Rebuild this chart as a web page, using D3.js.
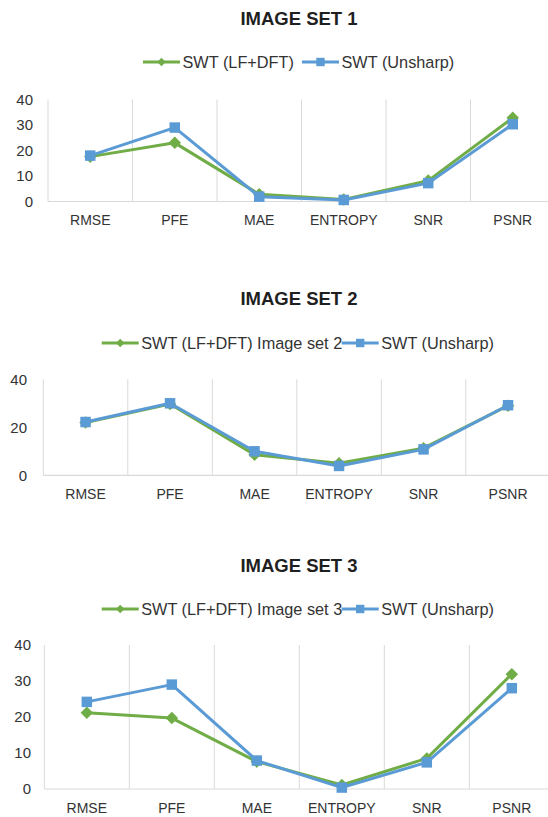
<!DOCTYPE html>
<html>
<head>
<meta charset="utf-8">
<script src="https://cdn.jsdelivr.net/npm/d3@7"></script>
<style>
  html, body { margin: 0; padding: 0; background: #fff; }
  svg { display: block; font-family: "Liberation Sans", Arial, Helvetica, sans-serif; }
</style>
</head>
<body>
<svg id="chart" width="548" height="817"></svg>
<script>
// Metrics shared by all three panels
const categories = ["RMSE", "PFE", "MAE", "ENTROPY", "SNR", "PSNR"];

// Panel titles and legend names
const titles = ["IMAGE SET 1", "IMAGE SET 2", "IMAGE SET 3"];
const lfDftNames = ["SWT (LF+DFT)", "SWT (LF+DFT) Image set 2", "SWT (LF+DFT) Image set 3"];
const unsharpName = "SWT (Unsharp)";

// Series values per image set
const lfDft1   = [17.6, 23.0, 2.8, 0.8, 8.2, 32.8];
const unsharp1 = [18.0, 29.0, 1.9, 0.6, 7.2, 30.3];
const lfDft2   = [22.0, 29.7, 8.6, 5.0, 11.3, 29.0];
const unsharp2 = [22.2, 30.0, 10.0, 3.9, 10.8, 29.2];
const lfDft3   = [21.2, 19.7, 7.6, 1.1, 8.5, 31.9];
const unsharp3 = [24.2, 29.0, 7.9, 0.4, 7.4, 28.0];

// Value axis ticks
const yTicks1 = [0, 10, 20, 30, 40];
const yTicks2 = [0, 20, 40];
const yTicks3 = [0, 10, 20, 30, 40];

const GREEN = "#70ad47";
const BLUE = "#5b9bd5";
const GRID = "#d9d9d9";
const TEXT = "#333333";

const svg = d3.select("#chart");

const panels = [
  { title: titles[0], lf: lfDft1, un: unsharp1, lfName: lfDftNames[0], ticks: yTicks1,
    titleY: 18.5, legendY: 62, top: 99.5, bottom: 201.5, left: 48, band: 84.5,
    tickX: 33, labelY: 220, lfX: 143, unX: 302 },
  { title: titles[1], lf: lfDft2, un: unsharp2, lfName: lfDftNames[1], ticks: yTicks2,
    titleY: 299, legendY: 343, top: 379.3, bottom: 475.3, left: 43.3, band: 84.5,
    tickX: 27, labelY: 494, lfX: 101.7, unX: 341.7 },
  { title: titles[2], lf: lfDft3, un: unsharp3, lfName: lfDftNames[2], ticks: yTicks3,
    titleY: 566, legendY: 609, top: 645, bottom: 789, left: 44.3, band: 85,
    tickX: 31, labelY: 808, lfX: 101.7, unX: 341.7 }
];

const diamond = d3.symbol().type(d3.symbolDiamond2);
const square = d3.symbol().type(d3.symbolSquare2);

function drawPanel(p) {
  const g = svg.append("g");
  const x = d3.scaleBand().domain(categories)
    .range([p.left, p.left + p.band * categories.length]).padding(0);
  const y = d3.scaleLinear().domain([0, 40]).range([p.bottom, p.top]);
  const cx = d => x(d) + x.bandwidth() / 2;

  // title
  g.append("text")
    .attr("x", 299).attr("y", p.titleY).attr("dy", "0.35em")
    .attr("text-anchor", "middle")
    .attr("font-size", 18.5).attr("font-weight", "bold").attr("fill", "#1f1f1f")
    .text(p.title);

  // category separators (left axis included)
  const edges = categories.map(c => x(c)).concat([x.range()[1]]);
  g.selectAll("line.sep").data(edges).enter().append("line")
    .attr("x1", d => d).attr("x2", d => d)
    .attr("y1", y(40)).attr("y2", y(0))
    .attr("stroke", GRID).attr("stroke-width", 1);

  // baseline
  g.append("line")
    .attr("x1", x.range()[0]).attr("x2", x.range()[1])
    .attr("y1", y(0)).attr("y2", y(0))
    .attr("stroke", GRID).attr("stroke-width", 1.2);

  // value axis labels
  g.selectAll("text.ytick").data(p.ticks).enter().append("text")
    .attr("x", p.tickX).attr("y", d => y(d)).attr("dy", "0.35em")
    .attr("text-anchor", "end").attr("font-size", 15).attr("fill", TEXT)
    .text(d => d);

  // category labels
  g.selectAll("text.xtick").data(categories).enter().append("text")
    .attr("x", cx).attr("y", p.labelY).attr("dy", "0.35em")
    .attr("text-anchor", "middle").attr("font-size", 14).attr("fill", TEXT)
    .text(d => d);

  // series
  const series = [
    { values: p.lf, color: GREEN, sym: diamond, size: 100 },
    { values: p.un, color: BLUE, sym: square, size: 140 }
  ];
  const line = d3.line().x((d, i) => cx(categories[i])).y(d => y(d));
  series.forEach(s => {
    g.append("path").datum(s.values)
      .attr("d", line).attr("fill", "none")
      .attr("stroke", s.color).attr("stroke-width", 3)
      .attr("stroke-linejoin", "round");
    g.selectAll(null).data(s.values).enter().append("path")
      .attr("transform", (d, i) => `translate(${cx(categories[i])},${y(d)})`)
      .attr("d", s.sym.size(s.size)())
      .attr("fill", s.color);
  });

  // legend
  const legendItems = [
    { name: p.lfName, color: GREEN, sym: diamond, size: 45, x0: p.lfX },
    { name: unsharpName, color: BLUE, sym: square, size: 90, x0: p.unX }
  ];
  legendItems.forEach(it => {
    const lg = g.append("g");
    lg.append("line")
      .attr("x1", it.x0).attr("x2", it.x0 + 37)
      .attr("y1", p.legendY).attr("y2", p.legendY)
      .attr("stroke", it.color).attr("stroke-width", 3);
    lg.append("path")
      .attr("transform", `translate(${it.x0 + 18.5},${p.legendY})`)
      .attr("d", it.sym.size(it.size)())
      .attr("fill", it.color);
    lg.append("text")
      .attr("x", it.x0 + 39.5).attr("y", p.legendY).attr("dy", "0.35em")
      .attr("font-size", 16.3).attr("fill", TEXT)
      .text(it.name);
  });
}

panels.forEach(drawPanel);
</script>
</body>
</html>
